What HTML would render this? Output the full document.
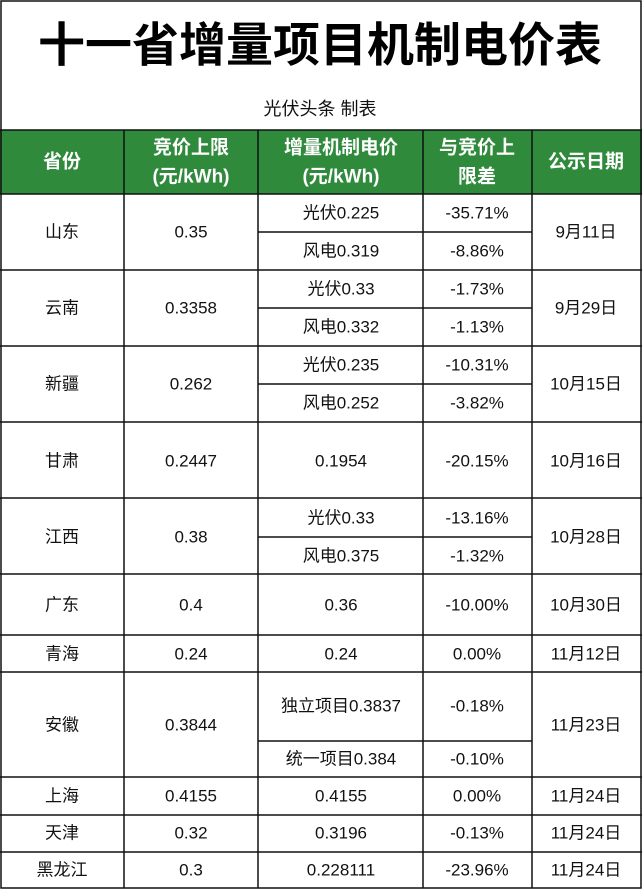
<!DOCTYPE html>
<html><head><meta charset="utf-8"><style>
html,body{margin:0;padding:0;background:#fff}
svg{display:block}
text{font-family:"Liberation Sans","Noto Sans CJK SC",sans-serif;fill:#111;text-anchor:middle;dominant-baseline:central}
.h{fill:#fff;font-weight:bold;font-size:19px}
.c{font-size:17px}
</style></head><body>
<svg width="642" height="889" viewBox="0 0 642 889">
<rect x="0" y="0" width="642" height="889" fill="#fff"/>
<text x="320" y="45" style="font-size:47px;font-weight:bold;fill:#000">十一省增量项目机制电价表</text>
<text x="320" y="109" style="font-size:18px">光伏头条 制表</text>
<rect x="0" y="130" width="642" height="64" fill="#2f8a3c"/>
<text class="h" x="62" y="162">省份</text>
<text class="h" x="191" y="148">竞价上限</text>
<text class="h" x="191" y="177">(元/kWh)</text>
<text class="h" x="341" y="148">增量机制电价</text>
<text class="h" x="341" y="177">(元/kWh)</text>
<text class="h" x="477" y="148">与竞价上</text>
<text class="h" x="477" y="177">限差</text>
<text class="h" x="586" y="162">公示日期</text>
<g stroke="#111" stroke-width="1.5" fill="none">
<rect x="1" y="1" width="640" height="887"/>
<line x1="0" y1="130" x2="642" y2="130"/>
<line x1="0" y1="194" x2="642" y2="194"/>
<line x1="124" y1="130" x2="124" y2="888"/>
<line x1="258" y1="130" x2="258" y2="888"/>
<line x1="423" y1="130" x2="423" y2="888"/>
<line x1="532" y1="130" x2="532" y2="888"/>
<line x1="0" y1="270" x2="642" y2="270"/>
<line x1="0" y1="346" x2="642" y2="346"/>
<line x1="0" y1="422" x2="642" y2="422"/>
<line x1="0" y1="498" x2="642" y2="498"/>
<line x1="0" y1="574" x2="642" y2="574"/>
<line x1="0" y1="635" x2="642" y2="635"/>
<line x1="0" y1="672" x2="642" y2="672"/>
<line x1="0" y1="777" x2="642" y2="777"/>
<line x1="0" y1="815" x2="642" y2="815"/>
<line x1="0" y1="852" x2="642" y2="852"/>
<line x1="258" y1="232" x2="532" y2="232"/>
<line x1="258" y1="308" x2="532" y2="308"/>
<line x1="258" y1="384" x2="532" y2="384"/>
<line x1="258" y1="537" x2="532" y2="537"/>
<line x1="258" y1="741" x2="532" y2="741"/>
</g>
<g class="c">
<text class="c" x="62" y="232">山东</text><text class="c" x="191" y="232">0.35</text>
<text class="c" x="341" y="213">光伏0.225</text><text class="c" x="477" y="213">-35.71%</text>
<text class="c" x="341" y="251">风电0.319</text><text class="c" x="477" y="251">-8.86%</text>
<text class="c" x="586" y="232">9月11日</text>

<text class="c" x="62" y="308">云南</text><text class="c" x="191" y="308">0.3358</text>
<text class="c" x="341" y="289">光伏0.33</text><text class="c" x="477" y="289">-1.73%</text>
<text class="c" x="341" y="327">风电0.332</text><text class="c" x="477" y="327">-1.13%</text>
<text class="c" x="586" y="308">9月29日</text>

<text class="c" x="62" y="384">新疆</text><text class="c" x="191" y="384">0.262</text>
<text class="c" x="341" y="365">光伏0.235</text><text class="c" x="477" y="365">-10.31%</text>
<text class="c" x="341" y="403">风电0.252</text><text class="c" x="477" y="403">-3.82%</text>
<text class="c" x="586" y="384">10月15日</text>

<text class="c" x="62" y="461">甘肃</text><text class="c" x="191" y="461">0.2447</text>
<text class="c" x="341" y="461">0.1954</text><text class="c" x="477" y="461">-20.15%</text>
<text class="c" x="586" y="461">10月16日</text>

<text class="c" x="62" y="537">江西</text><text class="c" x="191" y="537">0.38</text>
<text class="c" x="341" y="518">光伏0.33</text><text class="c" x="477" y="518">-13.16%</text>
<text class="c" x="341" y="556">风电0.375</text><text class="c" x="477" y="556">-1.32%</text>
<text class="c" x="586" y="537">10月28日</text>

<text class="c" x="62" y="605">广东</text><text class="c" x="191" y="605">0.4</text>
<text class="c" x="341" y="605">0.36</text><text class="c" x="477" y="605">-10.00%</text>
<text class="c" x="586" y="605">10月30日</text>

<text class="c" x="62" y="654">青海</text><text class="c" x="191" y="654">0.24</text>
<text class="c" x="341" y="654">0.24</text><text class="c" x="477" y="654">0.00%</text>
<text class="c" x="586" y="654">11月12日</text>

<text class="c" x="62" y="725">安徽</text><text class="c" x="191" y="725">0.3844</text>
<text class="c" x="341" y="706">独立项目0.3837</text><text class="c" x="477" y="706">-0.18%</text>
<text class="c" x="341" y="759">统一项目0.384</text><text class="c" x="477" y="759">-0.10%</text>
<text class="c" x="586" y="725">11月23日</text>

<text class="c" x="62" y="796">上海</text><text class="c" x="191" y="796">0.4155</text>
<text class="c" x="341" y="796">0.4155</text><text class="c" x="477" y="796">0.00%</text>
<text class="c" x="586" y="796">11月24日</text>

<text class="c" x="62" y="833">天津</text><text class="c" x="191" y="833">0.32</text>
<text class="c" x="341" y="833">0.3196</text><text class="c" x="477" y="833">-0.13%</text>
<text class="c" x="586" y="833">11月24日</text>

<text class="c" x="62" y="870">黑龙江</text><text class="c" x="191" y="870">0.3</text>
<text class="c" x="341" y="870">0.228111</text><text class="c" x="477" y="870">-23.96%</text>
<text class="c" x="586" y="870">11月24日</text>
</g>
</svg>
</body></html>
